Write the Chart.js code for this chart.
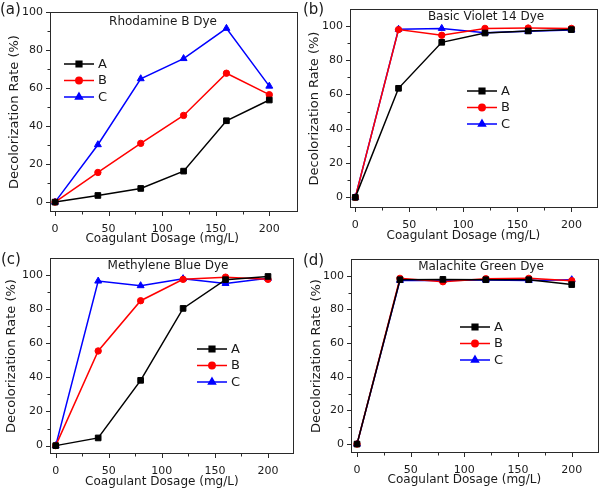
<!DOCTYPE html>
<html>
<head>
<meta charset="utf-8">
<script src="https://cdn.jsdelivr.net/npm/chart.js@4.4.1/dist/chart.umd.min.js"></script>
<style>
  body { margin: 0; background: #fff; }
  #wrap { position: relative; width: 606px; height: 499px; overflow: hidden; }
  .panel { position: absolute; }
</style>
</head>
<body>
<div id="wrap">
  <div class="panel" style="left:0;top:0"><canvas id="chartA" width="303" height="250"></canvas></div>
  <div class="panel" style="left:303px;top:0"><canvas id="chartB" width="303" height="250"></canvas></div>
  <div class="panel" style="left:0;top:250px"><canvas id="chartC" width="303" height="249"></canvas></div>
  <div class="panel" style="left:303px;top:250px"><canvas id="chartD" width="303" height="249"></canvas></div>
</div>

<script>
// data
var dosage = [0, 40, 80, 120, 160, 200];
var seriesNames = ['A', 'B', 'C'];

var rhodamineA = [0, 3.5, 7.2, 16.3, 42.8, 53.7];
var rhodamineB = [0, 15.6, 30.9, 45.6, 67.8, 56.5];
var rhodamineC = [0, 30.2, 64.9, 75.5, 91.4, 61.0];

var violetA = [0, 63.5, 90.3, 95.7, 96.9, 97.7];
var violetB = [0, 97.7, 94.4, 98.4, 98.6, 98.4];
var violetC = [0, 97.9, 98.4, 95.9, 96.7, 97.5];

var methyleneA = [0, 4.5, 38.2, 80.3, 97.1, 99.0];
var methyleneB = [0, 55.4, 84.8, 97.3, 98.6, 97.3];
var methyleneC = [0, 96.3, 93.6, 97.7, 94.9, 97.9];

var malachiteA = [0, 97.6, 97.8, 97.6, 97.6, 94.7];
var malachiteB = [0, 98.4, 96.4, 98.2, 98.4, 97.0];
var malachiteC = [0, 97.2, 97.2, 97.4, 97.2, 97.6];

var xTickValues = [0, 50, 100, 150, 200];
var yTickValues = [0, 20, 40, 60, 80, 100];

var FONT = "'DejaVu Sans', sans-serif";
var INK = '#1a1a1a';

var seriesColors = ['#000000', '#ff0000', '#0000ff'];
var seriesPoints = ['rect', 'circle', 'triangle'];
var seriesRadius = [4, 3.2, 4];

// per-panel layout (plot box in canvas pixels, axis ranges, legend spot)
var panels = [
  { id: 'chartA', tag: '(a)', title: 'Rhodamine B Dye', series: [rhodamineA, rhodamineB, rhodamineC],
    w: 303, h: 250, box: { left: 50, top: 12, right: 298, bottom: 212 },
    xMin: -4.7, xMax: 226.8, yMin: -5.2, yMax: 100,
    titleAt: [163, 22], tagAt: [0, 10], legendAt: [64, 64], yTitleX: 15, xTitleY: 239 },
  { id: 'chartB', tag: '(b)', title: 'Basic Violet 14 Dye', series: [violetA, violetB, violetC],
    w: 303, h: 250, box: { left: 47, top: 9, right: 295, bottom: 208 },
    xMin: -4.9, xMax: 224.6, yMin: -6.2, yMax: 109.7,
    titleAt: [183, 17], tagAt: [0, 10], legendAt: [164, 91], yTitleX: 12, xTitleY: 236 },
  { id: 'chartC', tag: '(c)', title: 'Methylene Blue Dye', series: [methyleneA, methyleneB, methyleneC],
    w: 303, h: 249, box: { left: 50, top: 8, right: 294, bottom: 204 },
    xMin: -5.4, xMax: 224.5, yMin: -4.9, yMax: 109.8,
    titleAt: [168, 16], tagAt: [1, 10], legendAt: [197, 99], yTitleX: 12, xTitleY: 232 },
  { id: 'chartD', tag: '(d)', title: 'Malachite Green Dye', series: [malachiteA, malachiteB, malachiteC],
    w: 303, h: 249, box: { left: 48, top: 9, right: 296, bottom: 203 },
    xMin: -5.6, xMax: 225.4, yMin: -5.3, yMax: 109.9,
    titleAt: [178, 17], tagAt: [0, 11], legendAt: [157, 77], yTitleX: 14, xTitleY: 230 }
];

function makeDecor(p) {
  return {
    id: 'decor',
    afterDraw: function(chart) {
      var ctx = chart.ctx, a = chart.chartArea;
      var xs = chart.scales.x, ys = chart.scales.y;
      ctx.save();

      // frame
      ctx.strokeStyle = '#2a2a2a';
      ctx.lineWidth = 1;
      ctx.strokeRect(Math.round(a.left) + 0.5, Math.round(a.top) + 0.5,
                     Math.round(a.right - a.left) - 1, Math.round(a.bottom - a.top) - 1);

      // outward ticks, major and minor
      ctx.beginPath();
      var bx = Math.round(a.bottom);
      var lx = Math.round(a.left);
      xTickValues.forEach(function(v, i) {
        var px = Math.round(xs.getPixelForValue(v)) + 0.5;
        ctx.moveTo(px, bx); ctx.lineTo(px, bx + 4);
        if (i < xTickValues.length - 1) {
          var mx = Math.round(xs.getPixelForValue((v + xTickValues[i + 1]) / 2)) + 0.5;
          ctx.moveTo(mx, bx); ctx.lineTo(mx, bx + 2.5);
        }
      });
      yTickValues.forEach(function(v, i) {
        var py = Math.round(ys.getPixelForValue(v)) + 0.5;
        ctx.moveTo(lx, py); ctx.lineTo(lx - 4, py);
        if (i < yTickValues.length - 1) {
          var my = Math.round(ys.getPixelForValue((v + yTickValues[i + 1]) / 2)) + 0.5;
          ctx.moveTo(lx, my); ctx.lineTo(lx - 2.5, my);
        }
      });
      ctx.stroke();

      ctx.fillStyle = INK;
      // x title, centred on the data range
      ctx.font = '12px ' + FONT;
      ctx.textAlign = 'center';
      ctx.textBaseline = 'middle';
      ctx.fillText('Coagulant Dosage (mg/L)', xs.getPixelForValue(100), p.xTitleY);

      // dye name
      ctx.fillText(p.title, p.titleAt[0], p.titleAt[1]);

      // panel tag
      ctx.font = '15px ' + FONT;
      ctx.textAlign = 'left';
      ctx.fillText(p.tag, p.tagAt[0], p.tagAt[1]);

      // legend inside the plot
      ctx.font = '13px ' + FONT;
      chart.data.datasets.forEach(function(ds, i) {
        var lx0 = p.legendAt[0], ly = p.legendAt[1] + i * 16.5;
        ctx.strokeStyle = ds.borderColor;
        ctx.lineWidth = ds.borderWidth;
        ctx.beginPath();
        ctx.moveTo(lx0, ly); ctx.lineTo(lx0 + 30, ly);
        ctx.stroke();
        ctx.fillStyle = ds.pointBackgroundColor;
        ctx.strokeStyle = ds.pointBorderColor;
        Chart.helpers.drawPoint(ctx, { pointStyle: ds.pointStyle, radius: ds.pointRadius, rotation: 0, borderWidth: 1 }, lx0 + 15, ly);
        ctx.fillStyle = INK;
        ctx.fillText(ds.label, lx0 + 34, ly + 0.5);
      });
      ctx.restore();
    }
  };
}

panels.forEach(function(p) {
  var datasets = p.series.map(function(vals, i) {
    return {
      label: seriesNames[i],
      data: dosage.map(function(x, k) { return { x: x, y: vals[k] }; }),
      borderColor: seriesColors[i],
      backgroundColor: seriesColors[i],
      pointBackgroundColor: seriesColors[i],
      pointBorderColor: seriesColors[i],
      pointStyle: seriesPoints[i],
      pointRadius: seriesRadius[i],
      pointBorderWidth: 1,
      borderWidth: 1.5,
      tension: 0,
      clip: false
    };
  });

  new Chart(document.getElementById(p.id).getContext('2d'), {
    type: 'line',
    data: { datasets: datasets },
    options: {
      responsive: false,
      animation: false,
      devicePixelRatio: 1,
      layout: { padding: { top: p.box.top, right: p.w - p.box.right, left: 0, bottom: 0 } },
      plugins: { legend: { display: false }, tooltip: { enabled: false } },
      scales: {
        x: {
          type: 'linear',
          min: p.xMin, max: p.xMax,
          grid: { display: false, drawTicks: false },
          border: { display: false },
          afterBuildTicks: function(s) { s.ticks = xTickValues.map(function(v) { return { value: v }; }); },
          afterFit: function(s) { s.height = p.h - p.box.bottom; s.paddingLeft = 0; s.paddingRight = 0; },
          ticks: { padding: 10.5, color: INK, maxRotation: 0, autoSkip: false, font: { family: FONT, size: 11 } }
        },
        y: {
          min: p.yMin, max: p.yMax,
          grid: { display: false, drawTicks: false },
          border: { display: false },
          afterBuildTicks: function(s) { s.ticks = yTickValues.map(function(v) { return { value: v }; }); },
          afterFit: function(s) { s.width = p.box.left; s.paddingTop = 0; s.paddingBottom = 0; },
          ticks: { padding: 7, color: INK, font: { family: FONT, size: 11 } },
          title: { display: true, text: 'Decolorization Rate (%)', color: INK,
                   font: { family: FONT, size: 13 }, padding: { top: p.yTitleX - 8, bottom: 0 } }
        }
      }
    },
    plugins: [makeDecor(p)]
  });
});
</script>
</body>
</html>
